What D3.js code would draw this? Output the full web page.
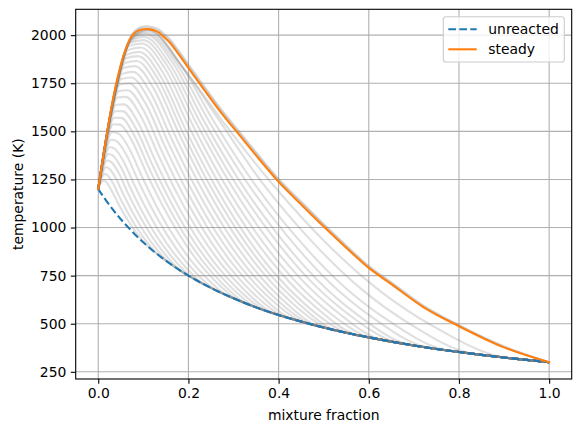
<!DOCTYPE html>
<html>
<head>
<meta charset="utf-8">
<script src="https://cdn.jsdelivr.net/npm/d3@7"></script>
<style>
  body { margin: 0; background: #fff; }
  text { font-family: "DejaVu Sans", sans-serif; }
</style>
</head>
<body>
<svg id="chart" width="580" height="432"></svg>
<script>
// unreacted mixing line
const unreactedZ = [0, 0.01, 0.02, 0.03, 0.04, 0.05, 0.06, 0.07, 0.08, 0.09, 0.1, 0.12, 0.14, 0.16, 0.18, 0.2, 0.25, 0.3, 0.35, 0.4, 0.45, 0.5, 0.55, 0.6, 0.65, 0.7, 0.75, 0.8, 0.85, 0.9, 0.95, 1.0];
const unreactedT = [1200, 1165, 1132, 1101, 1071, 1043, 1017, 992, 968, 944, 923, 882, 845, 811, 779, 750, 686, 632, 585, 545, 511, 480, 453, 429, 407, 387, 369, 353, 338, 324, 312, 300];

// steady flamelet
const steadyZ = [0, 0.01, 0.02, 0.03, 0.04, 0.05, 0.06, 0.07, 0.08, 0.09, 0.1, 0.107, 0.115, 0.125, 0.135, 0.145, 0.16, 0.175, 0.2, 0.225, 0.25, 0.275, 0.3, 0.35, 0.4, 0.45, 0.5, 0.55, 0.6, 0.65, 0.72, 0.8, 0.9, 1.0];
const steadyT = [1200, 1355, 1500, 1635, 1750, 1845, 1922, 1978, 2010, 2025, 2031, 2032, 2030, 2024, 2013, 1992, 1958, 1912, 1830, 1748, 1668, 1590, 1518, 1375, 1238, 1120, 1005, 895, 790, 706, 588, 487, 377, 300];

// transient snapshots [z, T] until they fall back on the unreacted line
const transient = [
  [[0,1200],[0.0065,1235],[0.0126,1245],[0.018,1235],[0.0272,1203],[0.0382,1153],[0.0502,1099],[0.064,1044],[0.0778,994],[0.0916,951],[0.11,902]],
  [[0,1200],[0.0076,1258],[0.0147,1279],[0.021,1270],[0.0324,1231],[0.0461,1164],[0.0609,1097],[0.078,1026],[0.0951,965],[0.1122,912],[0.135,854]],
  [[0,1200],[0.009,1281],[0.0175,1314],[0.025,1305],[0.0385,1259],[0.0547,1178],[0.0723,1096],[0.0925,1012],[0.1128,939],[0.133,877],[0.16,811]],
  [[0,1200],[0.0104,1306],[0.0203,1348],[0.029,1340],[0.0446,1287],[0.0633,1192],[0.0836,1096],[0.107,999],[0.1304,915],[0.1538,845],[0.185,772]],
  [[0,1200],[0.0115,1328],[0.0224,1382],[0.032,1375],[0.0498,1316],[0.0712,1207],[0.0943,1097],[0.121,986],[0.1477,894],[0.1744,816],[0.21,736]],
  [[0,1200],[0.013,1351],[0.0252,1417],[0.036,1410],[0.0559,1345],[0.0798,1223],[0.1057,1101],[0.1355,977],[0.1654,874],[0.1952,790],[0.235,704]],
  [[0,1200],[0.0144,1377],[0.028,1456],[0.04,1450],[0.062,1380],[0.0884,1244],[0.117,1108],[0.15,972],[0.183,858],[0.216,766],[0.26,674]],
  [[0,1200],[0.0158,1404],[0.0308,1495],[0.044,1490],[0.0681,1413],[0.097,1265],[0.1284,1115],[0.1645,966],[0.2007,844],[0.2368,745],[0.285,647]],
  [[0,1200],[0.0173,1433],[0.0336,1537],[0.048,1535],[0.0742,1453],[0.1056,1290],[0.1397,1128],[0.179,966],[0.2183,832],[0.2576,726],[0.31,622]],
  [[0,1200],[0.0184,1454],[0.0357,1571],[0.051,1570],[0.0789,1483],[0.1124,1310],[0.1487,1137],[0.1905,965],[0.2324,823],[0.2742,711],[0.33,603]],
  [[0,1200],[0.0194,1477],[0.0378,1604],[0.054,1605],[0.0836,1514],[0.1191,1330],[0.1576,1147],[0.202,964],[0.2464,816],[0.2908,698],[0.35,585]],
  [[0,1200],[0.0205,1494],[0.0399,1638],[0.057,1640],[0.0883,1546],[0.1259,1351],[0.1666,1157],[0.2135,965],[0.2605,809],[0.3074,686],[0.37,569]],
  [[0,1200],[0.022,1514],[0.0427,1676],[0.061,1679],[0.0939,1581],[0.1334,1376],[0.1762,1171],[0.2255,969],[0.2749,804],[0.3242,675],[0.39,553]],
  [[0,1200],[0.0234,1536],[0.0455,1709],[0.065,1714],[0.0995,1613],[0.1409,1397],[0.1858,1183],[0.2375,971],[0.2893,798],[0.341,664],[0.41,538]],
  [[0,1200],[0.0248,1555],[0.0483,1743],[0.069,1749],[0.1051,1644],[0.1484,1419],[0.1954,1195],[0.2495,973],[0.3037,794],[0.3578,655],[0.43,524]],
  [[0,1200],[0.0263,1574],[0.0511,1772],[0.073,1780],[0.1107,1673],[0.1559,1439],[0.205,1205],[0.2615,974],[0.318,789],[0.3746,645],[0.45,511]],
  [[0,1200],[0.0277,1594],[0.0539,1800],[0.077,1809],[0.1163,1699],[0.1635,1456],[0.2146,1214],[0.2735,976],[0.3325,784],[0.3914,635],[0.47,498]],
  [[0,1200],[0.0292,1614],[0.0567,1830],[0.081,1839],[0.1219,1727],[0.171,1475],[0.2242,1224],[0.2855,978],[0.3469,780],[0.4082,626],[0.49,486]],
  [[0,1200],[0.0306,1632],[0.0595,1855],[0.085,1866],[0.1275,1751],[0.1785,1491],[0.2338,1233],[0.2975,980],[0.3613,776],[0.425,618],[0.51,474]],
  [[0,1200],[0.0317,1645],[0.0616,1880],[0.088,1891],[0.1322,1773],[0.1852,1506],[0.2427,1240],[0.309,981],[0.3753,771],[0.4416,610],[0.53,463]],
  [[0,1200],[0.0328,1660],[0.0637,1899],[0.091,1913],[0.1369,1792],[0.192,1518],[0.2517,1247],[0.3205,981],[0.3894,766],[0.4582,602],[0.55,453]],
  [[0,1200],[0.0338,1672],[0.0658,1922],[0.094,1936],[0.1421,1811],[0.1998,1530],[0.2624,1251],[0.3345,979],[0.4067,761],[0.4788,593],[0.575,440]],
  [[0,1200],[0.0349,1685],[0.0679,1943],[0.097,1957],[0.1473,1829],[0.2077,1541],[0.273,1256],[0.3485,978],[0.424,754],[0.4994,583],[0.6,429]],
  [[0,1200],[0.036,1695],[0.07,1959],[0.1,1974],[0.153,1841],[0.2166,1547],[0.2855,1256],[0.365,972],[0.4445,745],[0.524,572],[0.63,415]],
  [[0,1200],[0.0367,1702],[0.0714,1968],[0.102,1991],[0.1578,1854],[0.2248,1553],[0.2973,1256],[0.381,972],[0.4647,737],[0.5484,561],[0.66,403]],
  [[0,1200],[0.0378,1712],[0.0735,1978],[0.105,2005],[0.1635,1864],[0.2337,1557],[0.3098,1255],[0.3975,966],[0.4853,729],[0.573,550],[0.69,391]],
  [[0,1200],[0.0385,1720],[0.0749,1985],[0.107,2012],[0.1693,1868],[0.2441,1558],[0.3251,1251],[0.4185,958],[0.512,717],[0.6054,537],[0.73,376]],
  [[0,1200],[0.0392,1728],[0.0763,1990],[0.109,2022],[0.1751,1873],[0.2544,1559],[0.3404,1247],[0.4395,950],[0.5387,707],[0.6378,525],[0.77,363]],
  [[0,1200],[0.04,1740],[0.0777,1995],[0.111,2027],[0.1829,1845],[0.2692,1553],[0.3627,1236],[0.4705,936],[0.5784,690],[0.6862,506],[0.83,344]],
  [[0,1200],[0.0407,1745],[0.0791,2000],[0.113,2030],[0.1917,1818],[0.2861,1520],[0.3885,1220],[0.5065,917],[0.6246,671],[0.7426,487],[0.9,324]]
];
// last snapshots, on the steady grid
const lateT1 = [1200, 1343, 1488, 1624, 1741, 1838, 1918, 1980, 2015, 2032, 2039, 2040, 2038, 2032, 2022, 2002, 1969, 1923, 1841, 1759, 1679, 1601, 1529, 1386, 1248, 1130, 1014, 903, 797, 712, 593, 491, 380, 300];
const lateT2 = [1200, 1335, 1480, 1616, 1735, 1834, 1917, 1982, 2020, 2038, 2045, 2047, 2045, 2039, 2029, 2009, 1976, 1930, 1848, 1766, 1686, 1607, 1535, 1392, 1253, 1135, 1018, 907, 800, 715, 596, 493, 382, 300];

const xTicks = [0, 0.2, 0.4, 0.6, 0.8, 1.0];
const yTicks = [250, 500, 750, 1000, 1250, 1500, 1750, 2000];

const unreacted = unreactedZ.map((z, i) => [z, unreactedT[i]]);
const steady = steadyZ.map((z, i) => [z, steadyT[i]]);
const greyLines = transient.map(pts => {
    const zEnd = pts[pts.length - 1][0];
    return pts.concat(unreacted.filter(d => d[0] > zEnd + 1e-9));
});
greyLines.push(steadyZ.map((z, i) => [z, lateT1[i]]));
greyLines.push(steadyZ.map((z, i) => [z, lateT2[i]]));

const plotL = 75.7, plotR = 571.7, plotT = 9.3, plotB = 379;

const allT = unreactedT.concat(steadyT, lateT1, lateT2);
const tMin = d3.min(allT), tMax = d3.max(allT);
const pad = (tMax - tMin) * 0.05;

const x = d3.scaleLinear().domain([-0.05, 1.05]).range([plotL, plotR]);
const y = d3.scaleLinear().domain([tMin - pad, tMax + pad]).range([plotB, plotT]);

const svg = d3.select("#chart");

// grid
svg.append("g")
    .selectAll("line")
    .data(xTicks)
    .join("line")
    .attr("x1", d => x(d)).attr("x2", d => x(d))
    .attr("y1", plotT).attr("y2", plotB)
    .attr("stroke", "#b0b0b0")
    .attr("stroke-width", 1.1);
svg.append("g")
    .selectAll("line")
    .data(yTicks)
    .join("line")
    .attr("x1", plotL).attr("x2", plotR)
    .attr("y1", d => y(d)).attr("y2", d => y(d))
    .attr("stroke", "#b0b0b0")
    .attr("stroke-width", 1.1);

const line = d3.line()
    .x(d => x(d[0]))
    .y(d => y(d[1]))
    .curve(d3.curveMonotoneX);

// transient snapshots
svg.append("g")
    .selectAll("path")
    .data(greyLines)
    .join("path")
    .attr("d", line)
    .attr("fill", "none")
    .attr("stroke", "#808080")
    .attr("stroke-opacity", 0.25)
    .attr("stroke-width", 2.08)
    .attr("stroke-linejoin", "round");

svg.append("path")
    .datum(unreacted)
    .attr("d", line)
    .attr("fill", "none")
    .attr("stroke", "#1f77b4")
    .attr("stroke-width", 2.08)
    .attr("stroke-dasharray", "7.7,3.3");

svg.append("path")
    .datum(steady)
    .attr("d", line)
    .attr("fill", "none")
    .attr("stroke", "#ff7f0e")
    .attr("stroke-width", 2.08)
    .attr("stroke-linejoin", "round")
    .attr("stroke-linecap", "square");

// axes
const xAxis = svg.append("g")
    .attr("transform", `translate(0,${plotB})`)
    .call(d3.axisBottom(x).tickValues(xTicks).tickFormat(d3.format(".1f")).tickSize(4.86).tickPadding(4.5));
const yAxis = svg.append("g")
    .attr("transform", `translate(${plotL},0)`)
    .call(d3.axisLeft(y).tickValues(yTicks).tickFormat(d3.format("d")).tickSize(4.86).tickPadding(4.5));
[xAxis, yAxis].forEach(g => {
    g.select(".domain").remove();
    g.selectAll(".tick line").attr("stroke", "#000").attr("stroke-width", 1.1);
    g.selectAll(".tick text")
        .attr("fill", "#000")
        .style("font-size", "13.9px")
        .style("font-family", "'DejaVu Sans', sans-serif");
});

svg.append("rect")
    .attr("x", plotL).attr("y", plotT)
    .attr("width", plotR - plotL).attr("height", plotB - plotT)
    .attr("fill", "none")
    .attr("stroke", "#000")
    .attr("stroke-width", 1.1);

svg.append("text")
    .attr("x", (plotL + plotR) / 2)
    .attr("y", 420)
    .attr("text-anchor", "middle")
    .style("font-size", "13.9px")
    .text("mixture fraction");

svg.append("text")
    .attr("transform", `translate(23,${(plotT + plotB) / 2}) rotate(-90)`)
    .attr("text-anchor", "middle")
    .style("font-size", "13.9px")
    .text("temperature (K)");

// legend
const legend = svg.append("g");
legend.append("rect")
    .attr("x", 443.3).attr("y", 16.7)
    .attr("width", 121).attr("height", 45.3)
    .attr("rx", 2.8)
    .attr("fill", "#fff").attr("fill-opacity", 0.8)
    .attr("stroke", "#cccccc").attr("stroke-width", 1.1);
const entries = [
    { label: "unreacted", color: "#1f77b4", dash: "7.7,3.3" },
    { label: "steady", color: "#ff7f0e", dash: null }
];
const rows = legend.selectAll("g")
    .data(entries)
    .join("g")
    .attr("transform", (d, i) => `translate(0,${29.3 + i * 20})`);
rows.append("line")
    .attr("x1", 448.3).attr("x2", 476.7)
    .attr("stroke", d => d.color)
    .attr("stroke-width", 2.08)
    .attr("stroke-dasharray", d => d.dash);
rows.append("text")
    .attr("x", 488.3)
    .attr("y", 5)
    .style("font-size", "13.9px")
    .text(d => d.label);
</script>
</body>
</html>
